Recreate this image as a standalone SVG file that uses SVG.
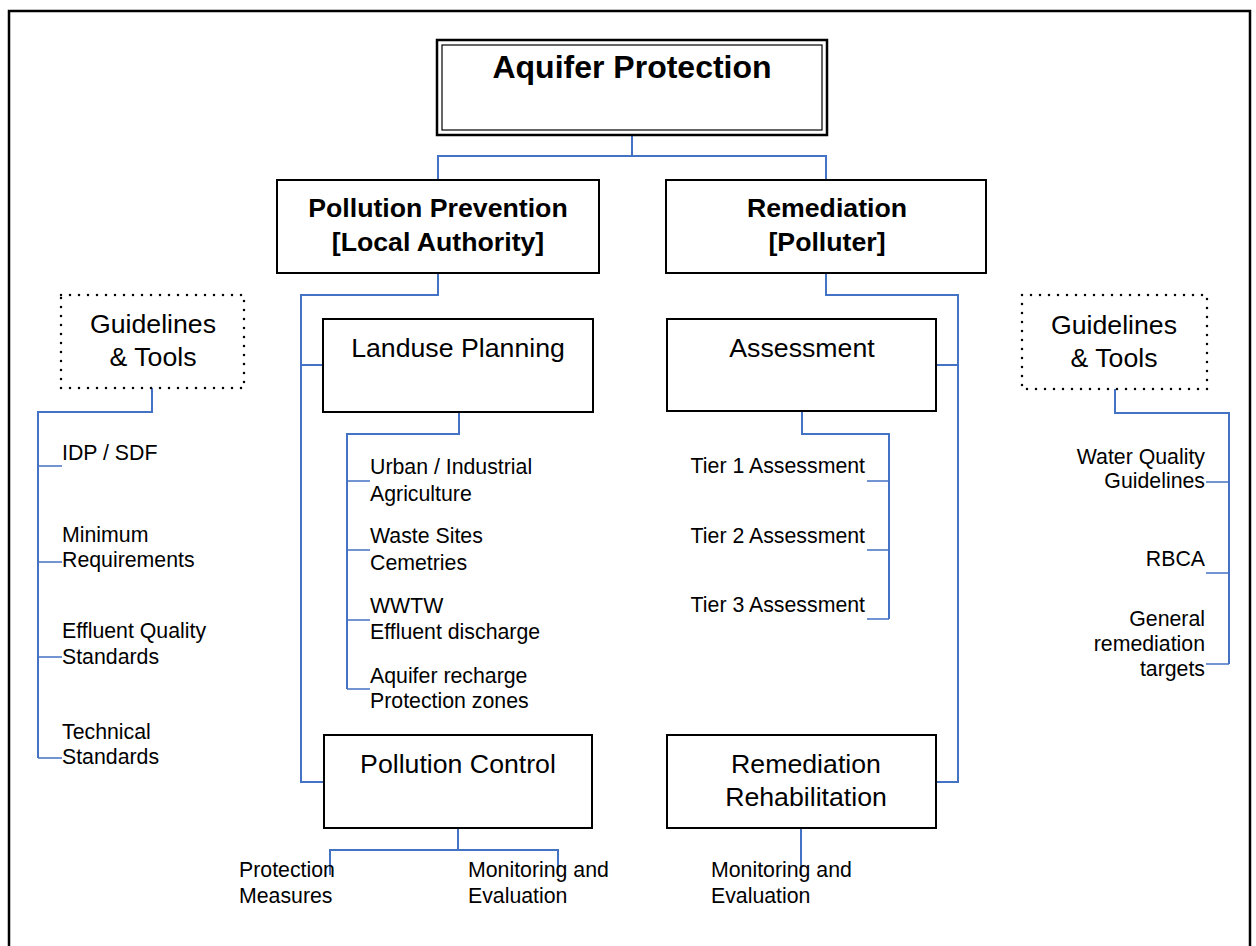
<svg xmlns="http://www.w3.org/2000/svg" width="1256" height="946" viewBox="0 0 1256 946">
  <style>
    text { font-family: "Liberation Sans", Arial, sans-serif; fill: #000; }
    .title { font-size: 32px; font-weight: bold; text-anchor: middle; }
    .head { font-size: 26.7px; font-weight: bold; text-anchor: middle; }
    .lbl { font-size: 26.7px; text-anchor: middle; }
    .item { font-size: 21.3px; }
    .end { text-anchor: end; }
    .box { fill: #fff; stroke: #000; stroke-width: 2; }
    .dot { fill: #fff; stroke: #000; stroke-width: 2.5; stroke-dasharray: 0 9; stroke-linecap: round; }
    .link { fill: none; stroke: #4472C4; stroke-width: 2; }
    .twig { fill: none; stroke: #4472C4; stroke-width: 1.6; }
  </style>

  <!-- page frame -->
  <rect x="9" y="11" width="1241" height="945" fill="#fff" stroke="#000" stroke-width="2.5"/>

  <!-- connectors -->
  <g id="connectors">
    <path class="link" d="M632 135 V156 M438 180 V156 H826 V180"/>
    <!-- prevention trunk -->
    <path class="link" d="M438 273 V295 H301 V782 H324 M301 365 H323"/>
    <!-- remediation trunk -->
    <path class="link" d="M826 273 V295 H958 V782 H936 M958 365 H936"/>
    <!-- landuse items -->
    <path class="link" d="M459 412 V434 H347 V689"/>
    <path class="twig" d="M347 481 H370 M347 550 H370 M347 620 H370 M347 689 H370"/>
    <!-- assessment tiers -->
    <path class="link" d="M802 411 V434 H889 V619"/>
    <path class="twig" d="M889 481 H867 M889 550 H867 M889 619 H867"/>
    <!-- left guidelines -->
    <path class="link" d="M152 388 V412 H38 V758"/>
    <path class="twig" d="M38 466 H62 M38 562 H62 M38 657 H62 M38 758 H62"/>
    <!-- right guidelines -->
    <path class="link" d="M1115 389 V413 H1229 V664"/>
    <path class="twig" d="M1229 482 H1206 M1229 573 H1206 M1229 664 H1206"/>
    <!-- pollution control outputs -->
    <path class="link" d="M458 828 V850 M330 875 V850 H558 V875"/>
    <!-- rehabilitation output -->
    <path class="link" d="M801 828 V875"/>
  </g>

  <g id="aquifer-protection">
    <rect x="437" y="40" width="390" height="95" fill="#fff" stroke="#000" stroke-width="2.5"/>
    <rect x="442" y="45" width="380" height="85" fill="none" stroke="#000" stroke-width="1.2"/>
    <text class="title" x="632" y="78">Aquifer Protection</text>
  </g>

  <g id="pollution-prevention">
    <rect class="box" x="277" y="180" width="322" height="93"/>
    <text class="head" x="438" y="217">Pollution Prevention</text>
    <text class="head" x="438" y="251">[Local Authority]</text>
  </g>

  <g id="remediation">
    <rect class="box" x="666" y="180" width="320" height="93"/>
    <text class="head" x="827" y="217">Remediation</text>
    <text class="head" x="827" y="251">[Polluter]</text>
  </g>

  <g id="landuse-planning">
    <rect class="box" x="323" y="319" width="270" height="93"/>
    <text class="lbl" x="458" y="357">Landuse Planning</text>
  </g>

  <g id="assessment">
    <rect class="box" x="667" y="319" width="269" height="92"/>
    <text class="lbl" x="802" y="357">Assessment</text>
  </g>

  <g id="pollution-control">
    <rect class="box" x="324" y="735" width="268" height="93"/>
    <text class="lbl" x="458" y="773">Pollution Control</text>
  </g>

  <g id="remediation-rehabilitation">
    <rect class="box" x="667" y="735" width="269" height="93"/>
    <text class="lbl" x="806" y="773">Remediation</text>
    <text class="lbl" x="806" y="806">Rehabilitation</text>
  </g>

  <g id="guidelines-left">
    <rect class="dot" x="61" y="295" width="183" height="93"/>
    <text class="lbl" x="153" y="333">Guidelines</text>
    <text class="lbl" x="153" y="366">&amp; Tools</text>
  </g>

  <g id="guidelines-right">
    <rect class="dot" x="1022" y="295" width="185" height="94"/>
    <text class="lbl" x="1114" y="334">Guidelines</text>
    <text class="lbl" x="1114" y="367">&amp; Tools</text>
  </g>

  <g id="left-tools">
    <text class="item" x="62" y="460">IDP / SDF</text>
    <text class="item" x="62" y="542">Minimum</text>
    <text class="item" x="62" y="567">Requirements</text>
    <text class="item" x="62" y="638">Effluent Quality</text>
    <text class="item" x="62" y="664">Standards</text>
    <text class="item" x="62" y="739">Technical</text>
    <text class="item" x="62" y="764">Standards</text>
  </g>

  <g id="landuse-items">
    <text class="item" x="370" y="474">Urban / Industrial</text>
    <text class="item" x="370" y="501">Agriculture</text>
    <text class="item" x="370" y="543">Waste Sites</text>
    <text class="item" x="370" y="570">Cemetries</text>
    <text class="item" x="370" y="613">WWTW</text>
    <text class="item" x="370" y="639">Effluent discharge</text>
    <text class="item" x="370" y="683">Aquifer recharge</text>
    <text class="item" x="370" y="708">Protection zones</text>
  </g>

  <g id="assessment-tiers">
    <text class="item end" x="865" y="473">Tier 1 Assessment</text>
    <text class="item end" x="865" y="543">Tier 2 Assessment</text>
    <text class="item end" x="865" y="612">Tier 3 Assessment</text>
  </g>

  <g id="right-tools">
    <text class="item end" x="1205" y="464">Water Quality</text>
    <text class="item end" x="1205" y="488">Guidelines</text>
    <text class="item end" x="1205" y="566">RBCA</text>
    <text class="item end" x="1205" y="626">General</text>
    <text class="item end" x="1205" y="651">remediation</text>
    <text class="item end" x="1205" y="676">targets</text>
  </g>

  <g id="control-outputs">
    <text class="item" x="239" y="877">Protection</text>
    <text class="item" x="239" y="903">Measures</text>
    <text class="item" x="468" y="877">Monitoring and</text>
    <text class="item" x="468" y="903">Evaluation</text>
  </g>

  <g id="rehabilitation-outputs">
    <text class="item" x="711" y="877">Monitoring and</text>
    <text class="item" x="711" y="903">Evaluation</text>
  </g>
</svg>
